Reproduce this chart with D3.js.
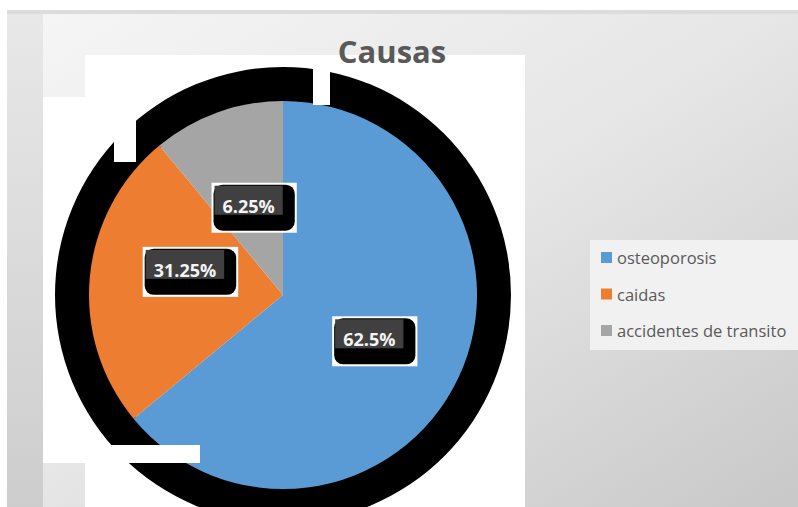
<!DOCTYPE html>
<html><head><meta charset="utf-8">
<script src="https://cdn.jsdelivr.net/npm/d3@7"></script>
<style>html,body{margin:0;padding:0;background:#fff;}svg{display:block;}</style>
</head><body>
<script>
// ---- data ----
const categories = ["osteoporosis", "caidas", "accidentes de transito"];
const sliceValues = [64, 25, 11];            // slice sizes as drawn in the picture
const labelTexts = ["62.5%", "31.25%", "6.25%"]; // data labels as printed
const colors = ["#5B9BD5", "#ED7D31", "#A5A5A5"];
const title = "Causas";

const W = 798, H = 507;
const svg = d3.select("body").append("svg").attr("width", W).attr("height", H);
const defs = svg.append("defs");
const g1 = defs.append("linearGradient").attr("id", "bg").attr("x1", 0).attr("y1", 0).attr("x2", 1).attr("y2", 1);
g1.append("stop").attr("offset", 0).attr("stop-color", "#f6f6f6");
g1.append("stop").attr("offset", 0.5).attr("stop-color", "#e6e6e6");
g1.append("stop").attr("offset", 1).attr("stop-color", "#c8c8c8");
const g2 = defs.append("linearGradient").attr("id", "left").attr("x1", 0).attr("y1", 0).attr("x2", 0).attr("y2", 1);
g2.append("stop").attr("offset", 0).attr("stop-color", "#e8e8e8");
g2.append("stop").attr("offset", 1).attr("stop-color", "#cdcdcd");

// background panel
svg.append("rect").attr("x", 7).attr("y", 10).attr("width", W - 7).attr("height", H - 10).attr("fill", "url(#bg)");
svg.append("rect").attr("x", 7).attr("y", 10).attr("width", W - 7).attr("height", 4).attr("fill", "#dcdcdc");
svg.append("rect").attr("x", 7).attr("y", 14).attr("width", 36).attr("height", H - 14).attr("fill", "url(#left)");
// white plot areas
svg.append("rect").attr("x", 43).attr("y", 97).attr("width", 60).attr("height", 366).attr("fill", "#fff");
svg.append("rect").attr("x", 85).attr("y", 55).attr("width", 440).attr("height", H - 55).attr("fill", "#fff");

// title
svg.append("text").attr("x", 392).attr("y", 63).attr("text-anchor", "middle")
  .attr("font-family", "'Open Sans', sans-serif").attr("font-weight", "bold")
  .attr("font-size", 31).attr("fill", "#595959").text(title);

const cx = 283, cy = 295, R = 194;
const pie = d3.pie().sort(null).value(d => d);
const arcs = pie(sliceValues);
const gp = svg.append("g").attr("transform", `translate(${cx},${cy})`);

// black outline ring (shadow artifact)
gp.append("path").attr("d", d3.arc().innerRadius(R - 3).outerRadius(228).startAngle(0).endAngle(2 * Math.PI)())
  .attr("fill", "#000");
// gaps in the ring
svg.append("rect").attr("x", 313).attr("y", 55).attr("width", 17).attr("height", 50).attr("fill", "#fff");
svg.append("rect").attr("x", 114).attr("y", 100).attr("width", 22).attr("height", 62).attr("fill", "#fff");
svg.append("rect").attr("x", 60).attr("y", 445).attr("width", 140).attr("height", 18).attr("fill", "#fff");

// slices
const arc = d3.arc().innerRadius(0).outerRadius(R);
gp.selectAll("path.slice").data(arcs).join("path").attr("class", "slice")
  .attr("d", arc).attr("fill", (d, i) => colors[i]);

// labels (placed near slice centroids, with Excel's small manual shifts)
const labelArc = d3.arc().innerRadius(97).outerRadius(97);
const shiftY = [5, -14, 4];
const lab = gp.selectAll("g.lab").data(arcs).join("g").attr("class", "lab")
  .attr("transform", (d, i) => { const c = labelArc.centroid(d); return `translate(${c[0] + 4},${c[1] + shiftY[i]})`; });
lab.each(function (d, i) {
  const g = d3.select(this);
  const t = g.append("text").attr("font-family", "'Open Sans', sans-serif").attr("font-weight", "bold")
    .attr("font-size", 18).attr("fill", "#f4f4f4").attr("text-anchor", "middle").attr("y", 5).text(labelTexts[i]);
  const tw = t.node().getComputedTextLength();
  const w = tw + 33, h = 50;
  const x0 = -w / 2, y0 = -h / 2;
  g.insert("rect", "text").attr("x", x0).attr("y", y0).attr("width", w).attr("height", h).attr("fill", "#fff");
  g.insert("rect", "text").attr("x", x0 + 2).attr("y", y0 + 2).attr("width", w - 4).attr("height", h - 4).attr("rx", 9).attr("fill", "#000");
  g.insert("rect", "text").attr("x", x0 + 3).attr("y", y0 + 3).attr("width", w - 17).attr("height", 29).attr("fill", "#404040");
  t.attr("x", x0 + 3 + (w - 17) / 2);
});

// legend
const lg = svg.append("g");
lg.append("rect").attr("x", 590).attr("y", 240).attr("width", 208).attr("height", 110).attr("fill", "#f1f1f1");
const ly = d3.scalePoint().domain(categories).range([258, 331]);
categories.forEach((c, i) => {
  lg.append("rect").attr("x", 601).attr("y", ly(c) - 6).attr("width", 11).attr("height", 11).attr("fill", colors[i]);
  lg.append("text").attr("x", 617).attr("y", ly(c) + 6).attr("font-family", "'Open Sans', sans-serif")
    .attr("font-size", 16.5).attr("fill", "#595959").text(c);
});
</script>
</body></html>
